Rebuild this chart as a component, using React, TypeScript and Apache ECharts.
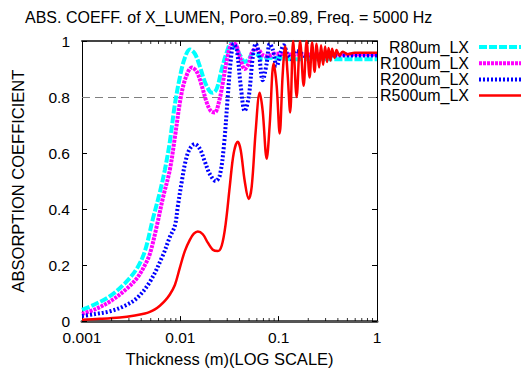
import React, { useEffect, useRef } from "react";
import * as echarts from "echarts";

const chartTitle = "ABS. COEFF. of X_LUMEN, Poro.=0.89, Freq. = 5000 Hz";
const xAxisName = "Thickness (m)(LOG SCALE)";
const yAxisName = "ABSORPTION COEFFICIENT";
const seriesNames = ["R80um_LX", "R100um_LX", "R200um_LX", "R500um_LX"];
const seriesColors = ["#00ffff", "#ff00ff", "#0000ff", "#ff0000"];

const r80Thickness = [0.001, 0.001355, 0.001925, 0.00273, 0.00362, 0.00436, 0.00526, 0.00619, 0.00696, 0.00782, 0.0088, 0.00988, 0.01111, 0.01249, 0.01403, 0.01578, 0.01773, 0.01993, 0.02137, 0.02348, 0.02638, 0.02966, 0.03256, 0.03659, 0.04113, 0.04516, 0.0496, 0.05445, 0.0612, 0.06879, 0.07733, 0.09107, 0.1293, 0.2607, 1];
const r80Absorption = [0.04, 0.06, 0.089, 0.135, 0.188, 0.25, 0.365, 0.46, 0.54, 0.64, 0.774, 0.87, 0.94, 0.97, 0.955, 0.91, 0.855, 0.82, 0.815, 0.83, 0.9, 0.96, 0.99, 0.975, 0.945, 0.925, 0.935, 0.955, 0.95, 0.935, 0.94, 0.94, 0.935, 0.935, 0.935];

const r100Thickness = [0.001, 0.001355, 0.001925, 0.00273, 0.00362, 0.00436, 0.0049, 0.00577, 0.00665, 0.00782, 0.0088, 0.01012, 0.01137, 0.01309, 0.01471, 0.01653, 0.01858, 0.0204, 0.0224, 0.0246, 0.02701, 0.02966, 0.03256, 0.03575, 0.04019, 0.04516, 0.0496, 0.05445, 0.0612, 0.06879, 0.07733, 0.09107, 0.1293, 0.2607, 1];
const r100Absorption = [0.026, 0.042, 0.07, 0.11, 0.153, 0.2, 0.24, 0.34, 0.44, 0.54, 0.656, 0.8, 0.87, 0.905, 0.89, 0.84, 0.78, 0.75, 0.745, 0.78, 0.85, 0.93, 0.985, 0.99, 0.945, 0.9, 0.92, 0.965, 0.97, 0.95, 0.945, 0.955, 0.952, 0.952, 0.952];

const r200Thickness = [0.001, 0.001355, 0.001925, 0.00273, 0.00362, 0.0049, 0.00665, 0.00782, 0.0088, 0.00943, 0.01036, 0.01137, 0.01249, 0.01403, 0.01578, 0.01773, 0.01993, 0.02293, 0.02518, 0.02764, 0.03035, 0.03256, 0.03492, 0.03746, 0.04113, 0.04516, 0.0496, 0.05445, 0.05841, 0.06266, 0.06879, 0.07553, 0.08101, 0.08692, 0.09543, 0.1048, 0.1124, 0.1234, 0.1355, 0.1488, 0.1634, 0.1879, 0.2319, 0.3296, 1];
const r200Absorption = [0.018, 0.025, 0.035, 0.055, 0.082, 0.14, 0.235, 0.3, 0.34, 0.41, 0.5, 0.575, 0.615, 0.632, 0.615, 0.57, 0.525, 0.5, 0.52, 0.62, 0.8, 0.93, 0.99, 0.97, 0.84, 0.75, 0.8, 0.94, 0.99, 0.96, 0.86, 0.92, 0.99, 0.97, 0.91, 0.96, 0.985, 0.95, 0.935, 0.965, 0.96, 0.945, 0.955, 0.948, 0.948];

const r500Thickness = [0.001, 0.001523, 0.00243, 0.003451, 0.00436, 0.0049, 0.005509, 0.00619, 0.00696, 0.00782, 0.0088, 0.00988, 0.01111, 0.01249, 0.01372, 0.01506, 0.01692, 0.01902, 0.02137, 0.02403, 0.02638, 0.02897, 0.03181, 0.03492, 0.03835, 0.04113, 0.04516, 0.0496, 0.0532, 0.05841, 0.06413, 0.06879, 0.07553, 0.08101, 0.08896, 0.09543, 0.1024, 0.1098, 0.1164, 0.1234, 0.1309, 0.1404, 0.1523, 0.1653, 0.1794, 0.1924, 0.2064, 0.2188, 0.2319, 0.243, 0.2577, 0.27, 0.283, 0.2966, 0.3107, 0.3218, 0.3372, 0.3492, 0.3703, 0.388, 0.4161, 0.4464, 0.5018, 0.5909, 1];
const r500Absorption = [0.005, 0.008, 0.013, 0.02, 0.027, 0.033, 0.042, 0.055, 0.072, 0.095, 0.129, 0.19, 0.25, 0.29, 0.312, 0.32, 0.31, 0.28, 0.255, 0.25, 0.27, 0.35, 0.48, 0.6, 0.64, 0.61, 0.5, 0.436, 0.48, 0.68, 0.815, 0.75, 0.58, 0.7, 0.92, 0.84, 0.67, 0.88, 0.98, 0.88, 0.745, 1.0, 0.8, 1.0, 0.84, 1.0, 0.87, 0.995, 0.89, 0.99, 0.905, 0.985, 0.915, 0.98, 0.925, 0.975, 0.93, 0.972, 0.94, 0.968, 0.948, 0.962, 0.953, 0.958, 0.958];

const referenceLevel = 0.8;
const minorTickValues = [0.002, 0.003, 0.004, 0.005, 0.006, 0.007, 0.008, 0.009, 0.02, 0.03, 0.04, 0.05, 0.06, 0.07, 0.08, 0.09, 0.2, 0.3, 0.4, 0.5, 0.6, 0.7, 0.8, 0.9];

const thicknessSets = [r80Thickness, r100Thickness, r200Thickness, r500Thickness];
const absorptionSets = [r80Absorption, r100Absorption, r200Absorption, r500Absorption];
const lineWidths = [4, 4, 4, 2.5];
const lineDashes: any[] = [[8, 2], [3, 1], [2, 2], "solid"];

const FONT = "Liberation Sans, Arial, sans-serif";

export default function App() {
  const ref = useRef<HTMLDivElement>(null);
  useEffect(() => {
    if (!ref.current) return;
    const chart = echarts.init(ref.current, undefined, { renderer: "svg" });
    const lineSeries = seriesNames.map((name, i) => ({
      name,
      type: "line",
      xAxisIndex: 0,
      yAxisIndex: 0,
      data: thicknessSets[i].map((t, k) => [t, absorptionSets[i][k]]),
      smooth: 0.35,
      symbol: "none",
      lineStyle: { color: seriesColors[i], width: lineWidths[i], type: lineDashes[i] },
      itemStyle: { color: seriesColors[i] },
      z: 3 + i,
      markLine:
        i === 0
          ? {
              silent: true,
              symbol: "none",
              label: { show: false },
              lineStyle: { color: "#808080", width: 1, type: [8, 5] },
              data: [{ yAxis: referenceLevel }],
              z: 1,
            }
          : undefined,
    }));
    const tickSeries = [
      {
        type: "scatter",
        silent: true,
        symbol: "rect",
        symbolSize: [1, 3],
        symbolOffset: [0, -1.5],
        itemStyle: { color: "#000" },
        data: minorTickValues.map((v) => [v, 0]),
        z: 10,
      },
      {
        type: "scatter",
        silent: true,
        symbol: "rect",
        symbolSize: [1, 3],
        symbolOffset: [0, 1.5],
        itemStyle: { color: "#000" },
        data: minorTickValues.map((v) => [v, 1]),
        z: 10,
      },
    ];
    const legendGraphics: any[] = [];
    seriesNames.forEach((name, i) => {
      const y = 47 + i * 16.2;
      legendGraphics.push({
        type: "text",
        style: { text: name, x: 469, y, textAlign: "right", textVerticalAlign: "middle", font: `16px ${FONT}`, fill: "#000" },
      });
      legendGraphics.push({
        type: "line",
        shape: { x1: 479, y1: y, x2: 521, y2: y },
        style: { stroke: seriesColors[i], lineWidth: lineWidths[i], lineDash: lineDashes[i] === "solid" ? null : lineDashes[i] },
      });
    });
    const labelStyle = { color: "#000", fontFamily: FONT, fontWeight: "normal" as const };
    chart.setOption({
      animation: false,
      backgroundColor: "#fff",
      textStyle: { fontFamily: FONT },
      title: {
        text: chartTitle,
        left: 20,
        top: 4,
        textStyle: { ...labelStyle, fontSize: 16 },
      },
      grid: { left: 82, right: 144, top: 41, bottom: 49 },
      xAxis: [
        {
          type: "log",
          logBase: 10,
          min: 0.001,
          max: 1,
          position: "bottom",
          name: xAxisName,
          nameLocation: "middle",
          nameGap: 26,
          nameTextStyle: { ...labelStyle, fontSize: 16.5 },
          axisLine: { onZero: false, lineStyle: { color: "#555", width: 3 } },
          axisTick: { inside: true, length: 5, lineStyle: { color: "#000" } },
          axisLabel: {
            ...labelStyle,
            fontSize: 15.5,
            margin: 8,
            formatter: (v: number) => String(+v.toPrecision(3)),
          },
          splitLine: { show: false },
        },
        {
          type: "log",
          logBase: 10,
          min: 0.001,
          max: 1,
          position: "top",
          axisLine: { onZero: false, lineStyle: { color: "#444", width: 2 } },
          axisTick: { inside: true, length: 5, lineStyle: { color: "#000" } },
          axisLabel: { show: false },
          splitLine: { show: false },
        },
      ],
      yAxis: [
        {
          type: "value",
          min: 0,
          max: 1,
          interval: 0.2,
          position: "left",
          name: yAxisName,
          nameLocation: "middle",
          nameGap: 56,
          nameTextStyle: { ...labelStyle, fontSize: 16.5 },
          axisLine: { onZero: false, lineStyle: { color: "#000", width: 1 } },
          axisTick: { inside: true, length: 5, lineStyle: { color: "#000" } },
          axisLabel: {
            ...labelStyle,
            fontSize: 15.5,
            margin: 12,
            formatter: (v: number) => String(+v.toFixed(1)),
          },
          splitLine: { show: false },
        },
        {
          type: "value",
          min: 0,
          max: 1,
          interval: 0.2,
          position: "right",
          axisLine: { onZero: false, lineStyle: { color: "#000", width: 1 } },
          axisTick: { inside: true, length: 5, lineStyle: { color: "#000" } },
          axisLabel: { show: false },
          splitLine: { show: false },
        },
      ],
      series: [...lineSeries, ...tickSeries],
      graphic: legendGraphics,
    });
    return () => chart.dispose();
  }, []);
  return <div ref={ref} style={{ width: 521, height: 372, position: "fixed", left: 0, top: 0 }} />;
}
